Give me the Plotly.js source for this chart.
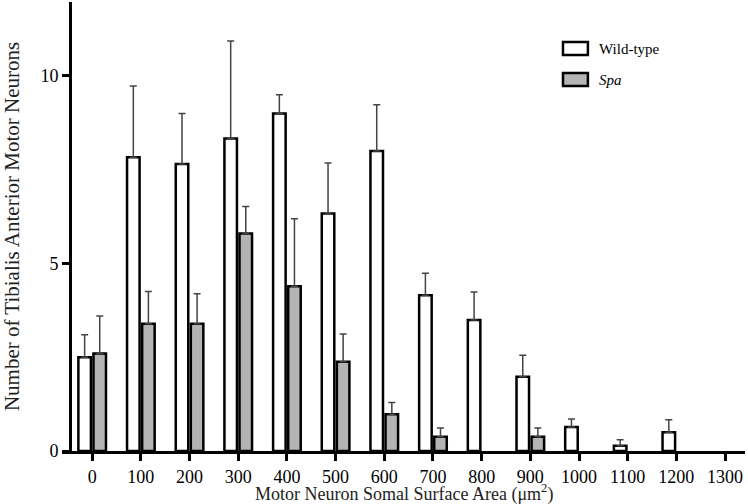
<!DOCTYPE html>
<html>
<head>
<meta charset="utf-8">
<script src="https://cdn.plot.ly/plotly-3.0.1.min.js"></script>
<style>html,body{margin:0;padding:0;background:#fff;}#chart{width:748px;height:504px;}</style>
</head>
<body>
<div id="chart"></div>
<script>
var areas = [0, 100, 200, 300, 400, 500, 600, 700, 800, 900, 1000, 1100, 1200, 1300];
var wildType = [2.5, 7.83, 7.65, 8.33, 9.0, 6.33, 8.0, 4.15, 3.49, 1.98, 0.64, 0.14, 0.5, null];
var wildTypeErr = [0.6, 1.9, 1.35, 2.6, 0.5, 1.35, 1.23, 0.59, 0.75, 0.57, 0.21, 0.16, 0.33, null];
var spa = [2.6, 3.39, 3.39, 5.8, 4.39, 2.38, 0.98, 0.38, null, 0.38, null, null, null, null];
var spaErr = [1.0, 0.86, 0.8, 0.72, 1.8, 0.74, 0.31, 0.23, null, 0.23, null, null, null, null];
var yTicks = [0, 5, 10];
var seriesNames = ['Wild-type', '<i>Spa</i>'];
var seriesFills = ['#ffffff', '#b4b4b4'];
var xTitle = 'Motor Neuron Somal Surface Area (\u03bcm<sup>2</sup>)';
var yTitle = 'Number of Tibialis Anterior Motor Neurons';

var zeros = areas.map(function(){return 0;});
var font = "'Liberation Serif', 'Times New Roman', serif";

var errStyle = function(arr){
  return {type:'data', symmetric:false, array:arr, arrayminus:zeros, color:'#444', thickness:1.5, width:3.5, visible:true};
};

var traces = [
  {type:'bar', name:seriesNames[0], x:areas, y:wildType, error_y:errStyle(wildTypeErr),
   marker:{color:seriesFills[0], line:{color:'#000', width:2.5}}},
  {type:'bar', name:seriesNames[1], x:areas, y:spa, error_y:errStyle(spaErr),
   marker:{color:seriesFills[1], line:{color:'#000', width:2.5}}}
];

// custom legend (larger boxes, as in the reference)
var legendBoxes = [[0.882, 0.911], [0.813, 0.842]];
var legendTextY = [0.896, 0.827];
var shapes = legendBoxes.map(function(b, i){
  return {type:'rect', xref:'paper', yref:'paper', x0:0.7335, x1:0.770, y0:b[0], y1:b[1],
          fillcolor:seriesFills[i], line:{color:'#000', width:2.5}};
});
var annotations = seriesNames.map(function(n, i){
  return {xref:'paper', yref:'paper', x:0.783, y:legendTextY[i], xanchor:'left', yanchor:'middle',
          text:n, showarrow:false, font:{family:font, size:15, color:'#000'}};
});
// x-axis title placed as an annotation so it sits low, as in the reference
annotations.push({xref:'paper', yref:'paper', x:0.5, y:-0.0925, xanchor:'center', yanchor:'middle',
                  text:xTitle, showarrow:false, font:{family:font, size:18, color:'#222'}});

var layout = {
  width:748, height:504,
  margin:{l:62, r:3, t:2, b:53},
  paper_bgcolor:'#fff', plot_bgcolor:'#fff',
  barmode:'group', bargap:0.38, bargroupgap:0.17,
  font:{family:font, size:18, color:'#000'},
  showlegend:false,
  shapes:shapes,
  annotations:annotations,
  xaxis:{range:[-62, 1341], tickvals:areas, ticktext:areas.map(String), showgrid:false, zeroline:false,
         showline:true, linecolor:'#000', linewidth:3, ticks:'outside', ticklen:7, tickwidth:3, tickcolor:'#000',
         tickfont:{family:font, size:18, color:'#000'}},
  yaxis:{range:[0, 11.97], tickvals:yTicks, ticktext:yTicks.map(String), showgrid:false, zeroline:false,
         anchor:'free', position:0.0117,
         showline:true, linecolor:'#000', linewidth:3, ticks:'outside', ticklen:7, tickwidth:3, tickcolor:'#000',
         tickfont:{family:font, size:18, color:'#000'},
         title:{text:yTitle, font:{family:font, size:21, color:'#222'}, standoff:16}}
};

Plotly.newPlot('chart', traces, layout, {displayModeBar:false, staticPlot:true});
</script>
</body>
</html>
